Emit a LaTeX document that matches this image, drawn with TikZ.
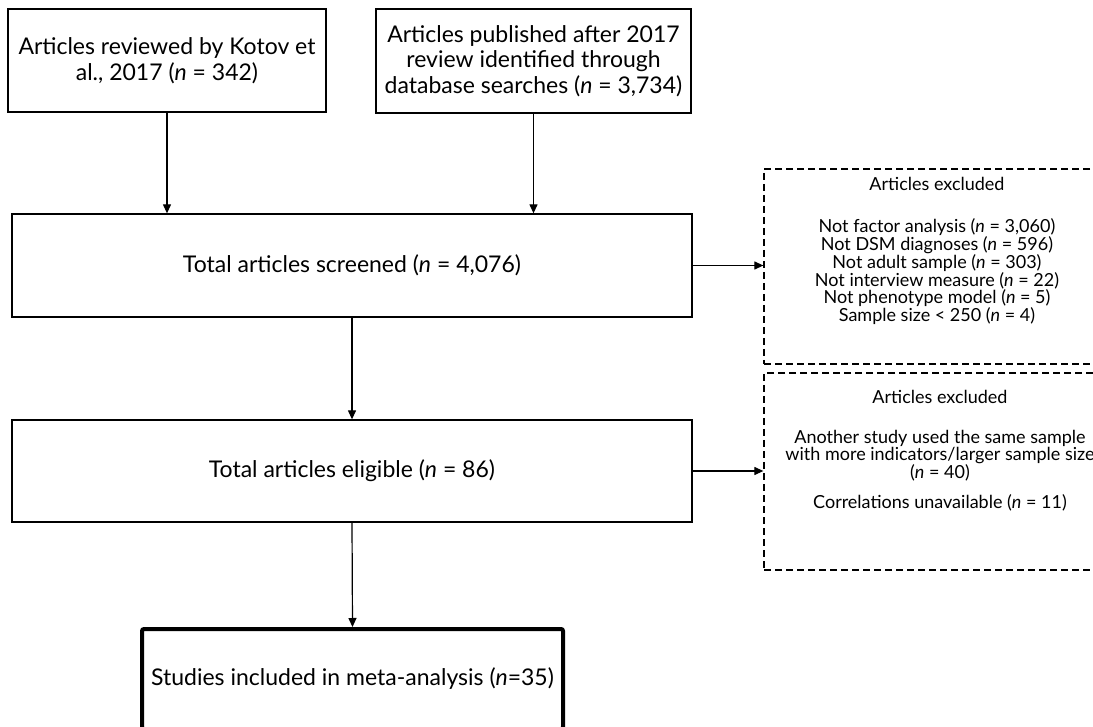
\documentclass[tikz,border=0pt]{standalone}
\usepackage{fontspec}
\setmainfont{Lato}
\usetikzlibrary{arrows.meta}
\begin{document}
\begin{tikzpicture}[x=1pt,y=-1pt,
  box/.style={draw, line width=1.3pt, inner sep=0pt, align=center, font=\fontsize{23}{25.5}\selectfont},
  exbox/.style={draw, dashed, dash pattern=on 7pt off 4pt, line width=1.3pt, inner sep=0pt},
  extext/.style={align=center, inner sep=0pt, font=\fontsize{18}{16.9}\selectfont},
  arr/.style={-{Triangle[length=9pt,width=8pt]}, line width=1.2pt}]
\useasboundingbox (0,0) rectangle (1093,727);
\begin{scope}
\clip (0,0) rectangle (1093,727);
\node[box, minimum width=318pt, minimum height=103pt] (A) at (167,60.5) {Articles reviewed by Kotov et\\al., 2017 (\textit{n} = 342)};
\node[box, minimum width=315pt, minimum height=104pt] (B) at (533.5,61) {Articles published after 2017\\review identified through\\database searches (\textit{n} = 3,734)};
\node[box, minimum width=680pt, minimum height=103pt] (C) at (352,265.5) {Total articles screened (\textit{n} = 4,076)};
\node[box, minimum width=680pt, minimum height=102pt] (D) at (352,471) {Total articles eligible (\textit{n} = 86)};
\node[box, line width=4pt, rounded corners=2pt, minimum width=421pt, minimum height=100pt] (E) at (352.5,679) {Studies included in meta-analysis (\textit{n}=35)};
\node[exbox, minimum width=346pt, minimum height=195pt] (X1) at (937,266.5) {};
\node[exbox, minimum width=352pt, minimum height=197pt] (X2) at (940,471.5) {};
\node[extext] (X1t) at (937,251) {Articles excluded\\[25pt]Not factor analysis (\textit{n} = 3,060)\\Not DSM diagnoses (\textit{n} = 596)\\Not adult sample (\textit{n} = 303)\\Not interview measure (\textit{n} = 22)\\Not phenotype model (\textit{n} = 5)\\Sample size < 250 (\textit{n} = 4)};
\node[extext] (X2t) at (940,451) {Articles excluded\\[23pt]Another study used the same sample\\with more indicators/larger sample size\\(\textit{n} = 40)\\[13pt]Correlations unavailable (\textit{n} = 11)};
\draw[arr] (A.south) -- (A.south |- C.north);
\draw[arr] (B.south) -- (B.south |- C.north);
\draw[arr] (C.south) -- (D.north);
\draw[arr] (D.south) -- (E.north);
\draw[arr] (C.east) -- (C.east -| X1.west);
\draw[arr] (D.east) -- (D.east -| X2.west);
\end{scope}
\end{tikzpicture}
\end{document}
